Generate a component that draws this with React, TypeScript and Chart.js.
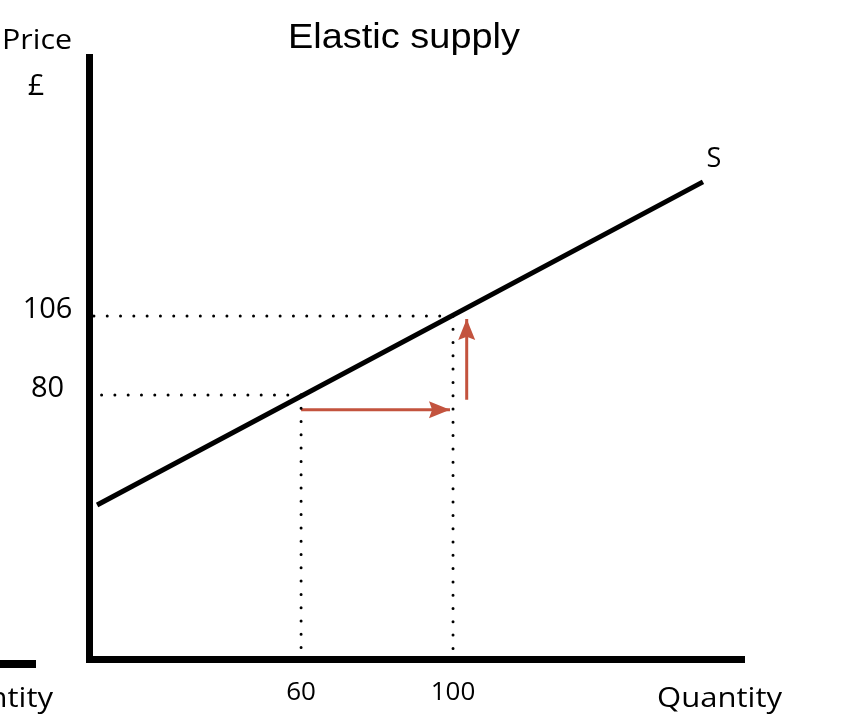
import { useEffect, useRef } from 'react';
import { Chart, registerables } from 'chart.js';

Chart.register(...registerables);

// ---- data ----
const CHART_TITLE = 'Elastic supply';
const X_LABEL = 'Quantity';
const X_LABEL_CLIPPED = 'ntity';
const Y_LABEL_TOP = 'Price';
const Y_LABEL_UNIT = '£';
const CURVE_LABEL = 'S';

const X_TICKS = [60, 100];
const Y_TICKS = [80, 106];
const X_RANGE = [4.3, 176.6];
const Y_RANGE = [-6.9, 191.2];

const SUPPLY_Q = [6.3, 165.8];
const SUPPLY_P = [43.8, 150.1];

const GUIDE_START_Q = 5.2;
const GUIDE_START_P = -4.5;

const QTY_ARROW_Q = [60, 99.2];
const QTY_ARROW_P = [75.1, 75.1];
const PRICE_ARROW_Q = [103.6, 103.6];
const PRICE_ARROW_P = [78.4, 105.0];

const ARROW_COLOR = '#C3533E';
const SANS = '"Open Sans", "Noto Sans", sans-serif';

function drawText(
  ctx: CanvasRenderingContext2D,
  text: string,
  x: number,
  y: number,
  font: string,
  align: CanvasTextAlign,
  width?: number,
  scaleX?: number
) {
  ctx.save();
  ctx.font = font;
  const w = ctx.measureText(text).width;
  const sx = scaleX ?? (width ? width / w : 1);
  ctx.translate(x, y);
  ctx.scale(sx, 1);
  ctx.textAlign = align;
  ctx.textBaseline = 'alphabetic';
  ctx.fillStyle = '#000';
  ctx.fillText(text, 0, 0);
  ctx.restore();
  return sx;
}

const arrowHeads = {
  id: 'arrowHeads',
  afterDatasetsDraw(chart: any) {
    const ctx = chart.ctx as CanvasRenderingContext2D;
    chart.data.datasets.forEach((ds: any, i: number) => {
      if (!ds.arrow) return;
      const pts = chart.getDatasetMeta(i).data;
      const a = pts[pts.length - 2];
      const b = pts[pts.length - 1];
      const ang = Math.atan2(b.y - a.y, b.x - a.x);
      const len = 21;
      const half = 8.5;
      ctx.save();
      ctx.translate(b.x, b.y);
      ctx.rotate(ang);
      ctx.beginPath();
      ctx.moveTo(0, 0);
      ctx.lineTo(-len, -half);
      ctx.lineTo(-len * 0.85, 0);
      ctx.lineTo(-len, half);
      ctx.closePath();
      ctx.fillStyle = ds.borderColor;
      ctx.fill();
      ctx.restore();
    });
  },
};

const annotations = {
  id: 'annotations',
  afterDraw(chart: any) {
    const ctx = chart.ctx as CanvasRenderingContext2D;
    const { left, bottom } = chart.chartArea;
    const xs = chart.scales.x;
    const ys = chart.scales.y;

    // tick labels
    X_TICKS.forEach((v) => {
      drawText(ctx, String(v), xs.getPixelForValue(v), bottom + 41, `26px ${SANS}`, 'center');
    });
    Y_TICKS.forEach((v) => {
      drawText(ctx, String(v), left - 42, ys.getPixelForValue(v) + 2, `29px ${SANS}`, 'center');
    });

    // title
    drawText(ctx, CHART_TITLE, 404, 48, '35px "Liberation Sans", Arial, sans-serif', 'center', 232);
    // y axis label
    drawText(ctx, Y_LABEL_TOP, 37, 49, `28px ${SANS}`, 'center', 70);
    drawText(ctx, Y_LABEL_UNIT, 36, 95, `29px ${SANS}`, 'center');
    // x axis label
    const sx = drawText(ctx, X_LABEL, 657, 707, `28px ${SANS}`, 'left', 125);
    drawText(ctx, X_LABEL_CLIPPED, 53, 707, `28px ${SANS}`, 'right', undefined, sx);
    // curve label
    const end = chart.getDatasetMeta(0).data[1];
    drawText(ctx, CURVE_LABEL, end.x + 11, end.y - 15, `27px ${SANS}`, 'center');

    // stray axis stub from the neighbouring slide
    ctx.save();
    ctx.fillStyle = '#000';
    ctx.fillRect(0, bottom + 1, 36, 8);
    ctx.restore();
  },
};

export default function App() {
  const ref = useRef<HTMLCanvasElement | null>(null);

  useEffect(() => {
    if (!ref.current) return;
    const dotted = {
      borderColor: '#000',
      borderWidth: 3,
      borderDash: [0, 13.3],
      borderCapStyle: 'round' as const,
      pointRadius: 0,
      showLine: true,
    };
    const guides: any[] = [];
    X_TICKS.forEach((q, i) => {
      const p = Y_TICKS[i];
      guides.push({
        ...dotted,
        data: [
          { x: q, y: p },
          { x: GUIDE_START_Q, y: p },
        ],
      });
      guides.push({
        ...dotted,
        data: [
          { x: q, y: p },
          { x: q, y: GUIDE_START_P },
        ],
      });
    });

    const chart = new Chart(ref.current, {
      type: 'scatter',
      data: {
        datasets: [
          {
            data: SUPPLY_Q.map((q, i) => ({ x: q, y: SUPPLY_P[i] })),
            borderColor: '#000',
            borderWidth: 5,
            showLine: true,
            pointRadius: 0,
          },
          ...guides,
          {
            data: QTY_ARROW_Q.map((q, i) => ({ x: q, y: QTY_ARROW_P[i] })),
            borderColor: ARROW_COLOR,
            borderWidth: 3,
            showLine: true,
            pointRadius: 0,
            arrow: true,
          } as any,
          {
            data: PRICE_ARROW_Q.map((q, i) => ({ x: q, y: PRICE_ARROW_P[i] })),
            borderColor: ARROW_COLOR,
            borderWidth: 3,
            showLine: true,
            pointRadius: 0,
            arrow: true,
          } as any,
        ],
      },
      options: {
        animation: false,
        responsive: false,
        layout: { padding: { left: 89.5, top: 57, right: 114, bottom: 67 } },
        plugins: {
          legend: { display: false },
          tooltip: { enabled: false },
          title: { display: false },
        },
        scales: {
          x: {
            type: 'linear',
            min: X_RANGE[0],
            max: X_RANGE[1],
            grid: { display: false, drawTicks: false },
            ticks: { display: false },
            border: { display: true, width: 7, color: '#000' },
          },
          y: {
            type: 'linear',
            min: Y_RANGE[0],
            max: Y_RANGE[1],
            grid: { display: false, drawTicks: false },
            ticks: { display: false },
            border: { display: true, width: 7, color: '#000' },
          },
        },
      },
      plugins: [arrowHeads, annotations],
    });
    return () => chart.destroy();
  }, []);

  return (
    <div style={{ position: 'absolute', left: 0, top: 0, width: 858, height: 726, background: '#fff' }}>
      <canvas ref={ref} width={858} height={726} style={{ display: 'block' }} />
    </div>
  );
}
